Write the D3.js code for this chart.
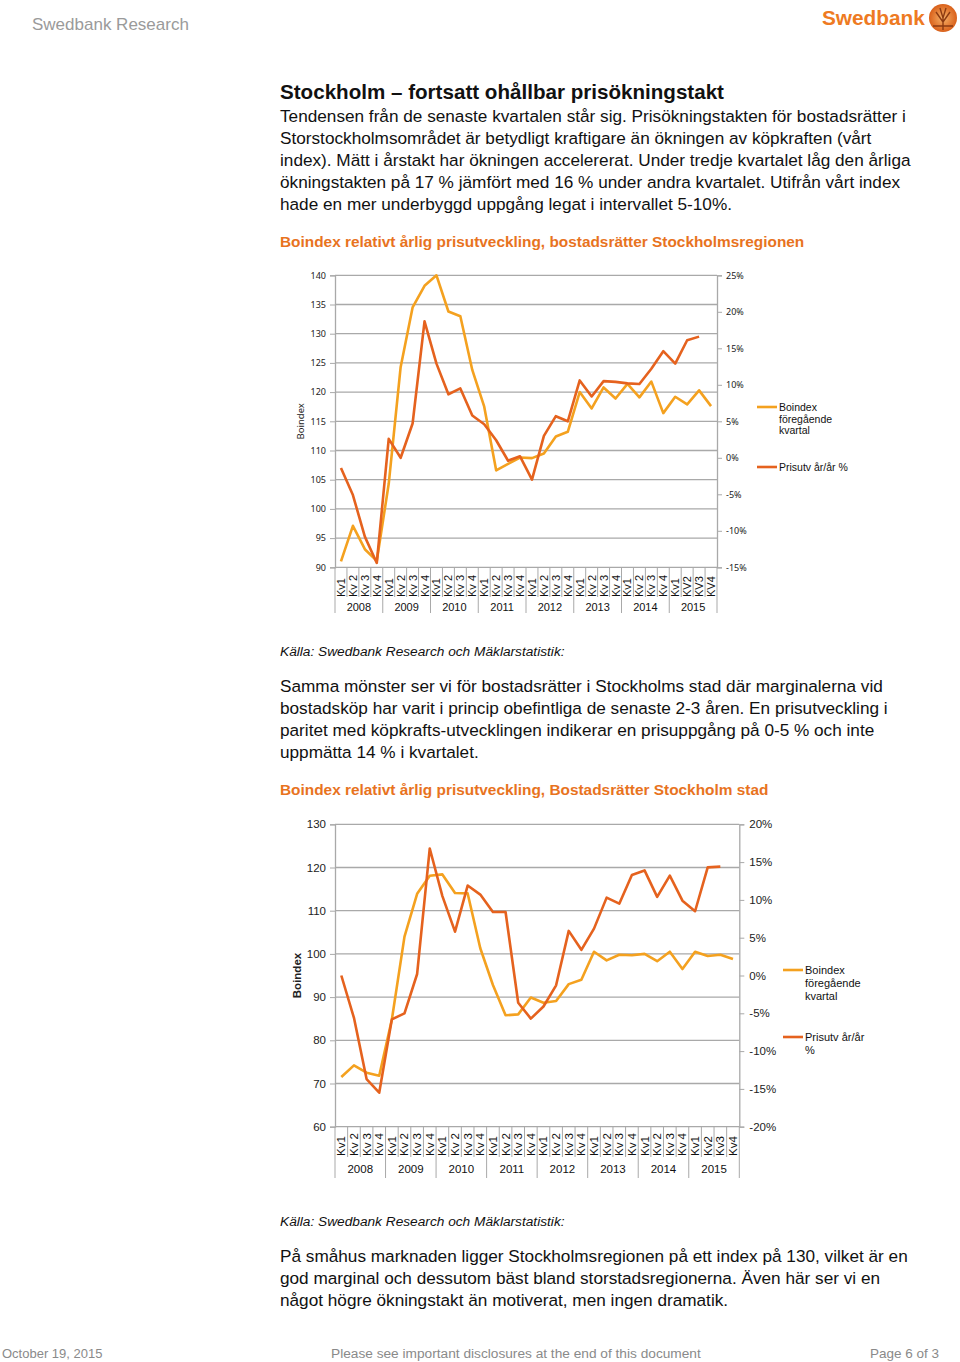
<!DOCTYPE html>
<html>
<head>
<meta charset="utf-8">
<script src="https://cdn.jsdelivr.net/npm/d3@7"></script>
<style>
  body { margin: 0; background: #fff; }
  svg { display: block; }
</style>
</head>
<body>
<svg id="page" width="960" height="1362"></svg>
<script>
// ---- data ----
var years = ["2008", "2009", "2010", "2011", "2012", "2013", "2014", "2015"];
var kvLabels1 = ["Kv1","Kv 2","Kv 3","Kv 4","Kv1","Kv 2","Kv 3","Kv 4","Kv1","Kv 2","Kv 3","Kv 4","Kv1","Kv 2","Kv 3","Kv 4",
                 "Kv1","Kv 2","Kv 3","Kv 4","Kv1","Kv 2","Kv 3","Kv 4","Kv1","Kv 2","Kv 3","Kv 4","Kv1","KV2","KV3","KV4"];
var kvLabels2 = ["Kv1","Kv 2","Kv 3","Kv 4","Kv1","Kv 2","Kv 3","Kv 4","Kv1","Kv 2","Kv 3","Kv 4","Kv1","Kv 2","Kv 3","Kv 4",
                 "Kv1","Kv 2","Kv 3","Kv 4","Kv1","Kv 2","Kv 3","Kv 4","Kv1","Kv 2","Kv 3","Kv 4","Kv1","Kv2","Kv3","Kv4"];

// Stockholmsregionen
var boindexRegion = [91.0, 97.1, 93.1, 91.1, 104.3, 124.3, 134.5, 138.2, 140.0, 133.8, 133.0, 123.8,
                     117.5, 106.6, 107.7, 108.8, 108.7, 109.5, 112.4, 113.2, 120.0, 117.2, 120.8, 118.9,
                     121.4, 119.1, 121.8, 116.4, 119.2, 117.9, 120.3, 117.6];
var prisutvRegion = [-1.4, -5.1, -10.8, -14.4, 2.6, 0.0, 4.7, 18.7, 12.9, 8.7, 9.5, 5.8,
                     4.6, 2.4, -0.4, 0.2, -3.0, 3.0, 5.7, 5.0, 10.6, 8.4, 10.5, 10.4,
                     10.2, 10.1, 12.2, 14.6, 12.9, 16.1, 16.6, null];

// Stockholm stad
var boindexStad = [71.5, 74.2, 72.5, 71.8, 84.8, 104.0, 113.9, 118.1, 118.4, 114.1, 114.0, 101.3,
                   92.8, 85.8, 86.0, 89.9, 88.7, 89.1, 93.0, 94.0, 100.5, 98.5, 99.8, 99.7,
                   100.0, 98.3, 100.5, 96.5, 100.5, 99.5, 99.8, 98.8];
var prisutvStad = [0.0, -5.6, -13.7, -15.5, -5.8, -5.0, 0.2, 16.8, 10.5, 5.8, 11.9, 10.7,
                   8.4, 8.4, -3.6, -5.7, -4.1, -1.3, 5.9, 3.4, 6.2, 10.3, 9.5, 13.3,
                   13.9, 10.4, 13.2, 9.9, 8.5, 14.3, 14.4, null];

var leftTicks1 = [90, 95, 100, 105, 110, 115, 120, 125, 130, 135, 140];
var rightTicks1 = [-15, -10, -5, 0, 5, 10, 15, 20, 25];
var leftTicks2 = [60, 70, 80, 90, 100, 110, 120, 130];
var rightTicks2 = [-20, -15, -10, -5, 0, 5, 10, 15, 20];

var LIGHT = "#F4A11F", DARK = "#E5621E", ORANGE = "#E8731E", GRID = "#A9A9A9";
var SANS = "Liberation Sans, Arial, sans-serif";

var svg = d3.select("#page");

// ---- header ----
svg.append("text").attr("x", 32).attr("y", 30).attr("font-family", SANS)
  .attr("font-size", 17).attr("fill", "#9a9a9a").text("Swedbank Research");
svg.append("text").attr("x", 822).attr("y", 25).attr("font-family", SANS)
  .attr("font-size", 20.8).attr("font-weight", "bold").attr("fill", "#EE7A22").text("Swedbank");
var grad = svg.append("defs").append("radialGradient").attr("id", "logo");
grad.append("stop").attr("offset", "0%").attr("stop-color", "#F7B36A");
grad.append("stop").attr("offset", "100%").attr("stop-color", "#D9601A");
svg.append("circle").attr("cx", 943).attr("cy", 18).attr("r", 14).attr("fill", "url(#logo)");
svg.append("path").attr("d", "M943,30 L943,18 M943,22 L936,12 M943,22 L950,12 M943,18 L940,8 M943,18 L946,8 M933,26 L953,26")
  .attr("stroke", "#8C3A12").attr("stroke-width", 1.4).attr("fill", "none");

// ---- text blocks ----
function para(lines, x, y0, lh, opts) {
  var t = svg.append("text").attr("font-family", SANS).attr("font-size", opts.size)
    .attr("fill", opts.fill || "#111").attr("font-weight", opts.weight || "normal")
    .attr("font-style", opts.style || "normal");
  lines.forEach(function(l, i) {
    t.append("tspan").attr("x", x).attr("y", y0 + i * lh).text(l);
  });
}

para(["Stockholm – fortsatt ohållbar prisökningstakt"], 280, 99, 22, {size: 20.6, weight: "bold"});
para(["Tendensen från de senaste kvartalen står sig. Prisökningstakten för bostadsrätter i",
      "Storstockholmsområdet är betydligt kraftigare än ökningen av köpkraften (vårt",
      "index). Mätt i årstakt har ökningen accelererat. Under tredje kvartalet låg den årliga",
      "ökningstakten på 17 % jämfört med 16 % under andra kvartalet. Utifrån vårt index",
      "hade en mer underbyggd uppgång legat i intervallet 5-10%."], 280, 122, 22, {size: 17.2});
para(["Boindex relativt årlig prisutveckling, bostadsrätter Stockholmsregionen"], 280, 247, 22,
     {size: 15.4, weight: "bold", fill: ORANGE});
para(["Källa: Swedbank Research och Mäklarstatistik:"], 280, 656, 22, {size: 13.7, style: "italic"});
para(["Samma mönster ser vi för bostadsrätter i Stockholms stad där marginalerna vid",
      "bostadsköp har varit i princip obefintliga de senaste 2-3 åren. En prisutveckling i",
      "paritet med köpkrafts-utvecklingen indikerar en prisuppgång på 0-5 % och inte",
      "uppmätta 14 % i kvartalet."], 280, 692, 22, {size: 17.2});
para(["Boindex relativt årlig prisutveckling, Bostadsrätter Stockholm stad"], 280, 795, 22,
     {size: 15.4, weight: "bold", fill: ORANGE});
para(["Källa: Swedbank Research och Mäklarstatistik:"], 280, 1226, 22, {size: 13.7, style: "italic"});
para(["På småhus marknaden ligger Stockholmsregionen på ett index på 130, vilket är en",
      "god marginal och dessutom bäst bland storstadsregionerna. Även här ser vi en",
      "något högre ökningstakt än motiverat, men ingen dramatik."], 280, 1262, 22, {size: 17.2});

// ---- footer ----
svg.append("text").attr("x", 2).attr("y", 1358).attr("font-family", SANS).attr("font-size", 13)
  .attr("fill", "#8a8a8a").text("October 19, 2015");
svg.append("text").attr("x", 331).attr("y", 1358).attr("font-family", SANS).attr("font-size", 13.7)
  .attr("fill", "#8a8a8a").text("Please see important disclosures at the end of this document");
svg.append("text").attr("x", 939).attr("y", 1358).attr("text-anchor", "end").attr("font-family", SANS)
  .attr("font-size", 13.5).attr("fill", "#8a8a8a").text("Page 6 of 3");

// ---- chart ----
function drawChart(c) {
  var g = svg.append("g");
  var idx = d3.range(c.kv.length);
  var x = d3.scaleBand().domain(idx).range([c.x0, c.x1]);
  var yL = d3.scaleLinear().domain(c.leftDomain).range([c.y1, c.y0]);
  var yR = d3.scaleLinear().domain(c.rightDomain).range([c.y1, c.y0]);

  // gridlines
  g.selectAll(".grid").data(c.leftTicks).enter().append("line")
    .attr("x1", c.x0).attr("x2", c.x1).attr("y1", yL).attr("y2", yL)
    .attr("stroke", GRID).attr("stroke-width", 1.3);

  // left axis
  var la = g.append("g").attr("transform", "translate(" + c.x0 + ",0)")
    .call(d3.axisLeft(yL).tickValues(c.leftTicks).tickSize(5).tickPadding(4));
  la.select(".domain").attr("stroke", GRID).attr("stroke-width", 1.3);
  la.selectAll(".tick line").attr("stroke", GRID);
  la.selectAll("text").attr("font-family", c.tickFont).attr("font-size", c.tickSize).attr("fill", "#222");

  // right axis
  var ra = g.append("g").attr("transform", "translate(" + c.x1 + ",0)")
    .call(d3.axisRight(yR).tickValues(c.rightTicks).tickSize(5).tickPadding(c.rightPad)
      .tickFormat(function(d) { return d + "%"; }));
  ra.select(".domain").attr("stroke", GRID).attr("stroke-width", 1.3);
  ra.selectAll(".tick line").attr("stroke", GRID);
  ra.selectAll("text").attr("font-family", c.tickFont).attr("font-size", c.tickSize).attr("fill", "#222");

  // category separators
  g.selectAll(".sep").data(d3.range(c.kv.length + 1)).enter().append("line")
    .attr("x1", function(i) { return c.x0 + i * x.step(); })
    .attr("x2", function(i) { return c.x0 + i * x.step(); })
    .attr("y1", c.y1)
    .attr("y2", function(i) { return i % 4 === 0 ? c.yearSepEnd : c.catSepEnd; })
    .attr("stroke", GRID).attr("stroke-width", 1);

  g.selectAll(".kv").data(c.kv).enter().append("text")
    .attr("transform", function(d, i) {
      return "translate(" + (x(i) + x.bandwidth() / 2 + 4) + "," + c.kvBase + ") rotate(-90)";
    })
    .attr("font-family", SANS).attr("font-size", c.kvSize).attr("fill", "#111").text(function(d) { return d; });

  g.selectAll(".yr").data(years).enter().append("text")
    .attr("x", function(d, i) { return x(i * 4) + 2 * x.step(); })
    .attr("y", c.yearBase).attr("text-anchor", "middle")
    .attr("font-family", SANS).attr("font-size", c.yearSize).attr("fill", "#111").text(function(d) { return d; });

  // axis title
  g.append("text").attr("transform", "translate(" + c.titleX + "," + ((c.y0 + c.y1) / 2) + ") rotate(-90)")
    .attr("text-anchor", "middle").attr("font-family", c.titleFont).attr("font-size", c.titleSize)
    .attr("font-weight", c.titleWeight).attr("fill", "#222").text("Boindex");

  // lines
  var lineL = d3.line().defined(function(d) { return d != null; })
    .x(function(d, i) { return x(i) + x.bandwidth() / 2; }).y(function(d) { return yL(d); });
  var lineR = d3.line().defined(function(d) { return d != null; })
    .x(function(d, i) { return x(i) + x.bandwidth() / 2; }).y(function(d) { return yR(d); });
  g.append("path").datum(c.boindex).attr("d", lineL).attr("fill", "none")
    .attr("stroke", LIGHT).attr("stroke-width", 2.6).attr("stroke-linejoin", "round");
  g.append("path").datum(c.prisutv).attr("d", lineR).attr("fill", "none")
    .attr("stroke", DARK).attr("stroke-width", 2.6).attr("stroke-linejoin", "round");

  // legend
  c.legend.forEach(function(l) {
    g.append("line").attr("x1", c.legX).attr("x2", c.legX + 20).attr("y1", l.y).attr("y2", l.y)
      .attr("stroke", l.color).attr("stroke-width", 2.6);
    var t = g.append("text").attr("font-family", SANS).attr("font-size", c.legSize).attr("fill", "#111");
    l.lines.forEach(function(s, i) {
      t.append("tspan").attr("x", c.legX + 22).attr("y", l.y + 4 + i * c.legLh).text(s);
    });
  });
}

drawChart({
  kv: kvLabels1, boindex: boindexRegion, prisutv: prisutvRegion,
  x0: 335, x1: 717, y0: 275.3, y1: 567.3,
  leftDomain: [90, 140], rightDomain: [-15, 25],
  leftTicks: leftTicks1, rightTicks: rightTicks1, rightPad: 4,
  tickFont: "Noto Sans, sans-serif", tickSize: 9,
  catSepEnd: 597, yearSepEnd: 613, kvBase: 597, kvSize: 11, yearBase: 611, yearSize: 11,
  titleX: 304, titleFont: "Noto Sans, sans-serif", titleSize: 9.5, titleWeight: "normal",
  legX: 757, legSize: 10.5, legLh: 11.7,
  legend: [
    {y: 407, color: LIGHT, lines: ["Boindex", "föregående", "kvartal"]},
    {y: 467, color: DARK, lines: ["Prisutv år/år %"]}
  ]
});

drawChart({
  kv: kvLabels2, boindex: boindexStad, prisutv: prisutvStad,
  x0: 335, x1: 739.3, y0: 824.3, y1: 1126.7,
  leftDomain: [60, 130], rightDomain: [-20, 20],
  leftTicks: leftTicks2, rightTicks: rightTicks2, rightPad: 5,
  tickFont: SANS, tickSize: 11.5,
  catSepEnd: 1157, yearSepEnd: 1178, kvBase: 1156, kvSize: 11.5, yearBase: 1173, yearSize: 11.5,
  titleX: 301, titleFont: SANS, titleSize: 11.5, titleWeight: "bold",
  legX: 783, legSize: 11, legLh: 13,
  legend: [
    {y: 970, color: LIGHT, lines: ["Boindex", "föregående", "kvartal"]},
    {y: 1037, color: DARK, lines: ["Prisutv år/år", "%"]}
  ]
});
</script>
</body>
</html>
